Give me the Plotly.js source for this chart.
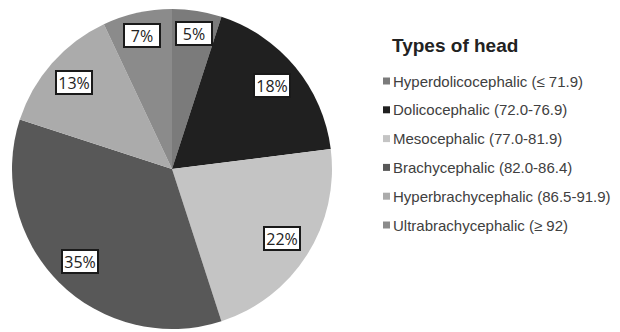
<!DOCTYPE html>
<html>
<head>
<meta charset="utf-8">
<script src="https://cdn.plot.ly/plotly-3.0.1.min.js"></script>
<style>html,body{margin:0;padding:0;background:#fff;}#chart{width:620px;height:332px;}</style>
</head>
<body>
<div id="chart"></div>
<script>
var categories = ["Hyperdolicocephalic (\u2264 71.9)", "Dolicocephalic (72.0-76.9)", "Mesocephalic (77.0-81.9)", "Brachycephalic (82.0-86.4)", "Hyperbrachycephalic (86.5-91.9)", "Ultrabrachycephalic (\u2265 92)"];
var values = [5, 18, 22, 35, 13, 7];
var sliceColors = ["#7b7b7b", "#202020", "#c4c4c4", "#585858", "#ababab", "#8b8b8b"];
var legendTitle = "Types of head";

var W = 620, H = 332;
var cx = 172, cy = 169, r = 160;
function px(x){ return x / W; }
function py(y){ return 1 - y / H; }

var trace = {
  type: "pie",
  labels: categories,
  values: values,
  sort: false,
  direction: "clockwise",
  rotation: 0,
  textinfo: "none",
  hoverinfo: "label+percent",
  marker: {colors: sliceColors, line: {color: "#ffffff", width: 0}},
  domain: {x: [px(cx - r), px(cx + r)], y: [py(cy + r), py(cy - r)]},
  showlegend: false
};

var annotations = [];
var shapes = [];
var total = values.reduce(function(a, b){ return a + b; }, 0);
var cum = 0;
var boxW = 38, boxH = 25;
for (var i = 0; i < values.length; i++) {
  var mid = (cum + values[i] / 2) / total * 2 * Math.PI;
  cum += values[i];
  var pct = Math.round(values[i] / total * 100);
  var s = Math.sin(mid), c = Math.cos(mid);
  var d = r - 7 - (Math.abs(s) * boxW / 2 + Math.abs(c) * boxH / 2);
  annotations.push({
    xref: "paper", yref: "paper",
    x: px(cx + d * s),
    y: py(cy - d * c),
    text: pct + "%", showarrow: false,
    font: {family: "Open Sans, Liberation Sans, sans-serif", size: 16, color: "#222"},
    bgcolor: "#ffffff", bordercolor: "#1a1a1a", borderwidth: 2, borderpad: 0,
    width: boxW - 4, height: boxH - 4, align: "center", valign: "middle",
    xanchor: "center", yanchor: "middle"
  });
}

annotations.push({
  xref: "paper", yref: "paper", x: px(390), y: py(45),
  text: "<b>" + legendTitle + "</b>", showarrow: false,
  xanchor: "left", yanchor: "middle",
  font: {family: "Liberation Sans, Arial, sans-serif", size: 19, color: "#222"}
});
for (var j = 0; j < categories.length; j++) {
  var yy = 81 + j * 28.8;
  shapes.push({
    type: "rect", xref: "paper", yref: "paper",
    x0: px(383), x1: px(390), y0: py(yy - 3.5), y1: py(yy + 3.5),
    fillcolor: sliceColors[j], line: {width: 0}
  });
  annotations.push({
    xref: "paper", yref: "paper", x: px(391), y: py(yy),
    text: categories[j], showarrow: false,
    xanchor: "left", yanchor: "middle",
    font: {family: "Liberation Sans, Arial, sans-serif", size: 15, color: "#404040"}
  });
}

var layout = {
  width: W, height: H,
  margin: {l: 0, r: 0, t: 0, b: 0},
  paper_bgcolor: "#ffffff",
  showlegend: false,
  annotations: annotations,
  shapes: shapes
};
Plotly.newPlot("chart", [trace], layout, {displayModeBar: false, staticPlot: true});
</script>
</body>
</html>
